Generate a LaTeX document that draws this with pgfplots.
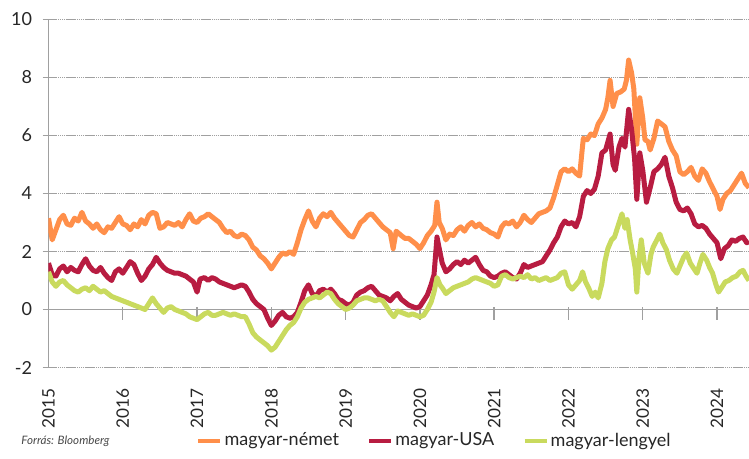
\documentclass[border=0pt]{standalone}
\usepackage{pgfplots}
\pgfplotsset{compat=1.18}
\usepackage{fontspec}
\setmainfont{Lato}
\definecolor{cOr}{HTML}{FF8F4A}
\definecolor{cRd}{HTML}{B81C41}
\definecolor{cGr}{HTML}{C9DA5E}
\definecolor{grd}{HTML}{A0A0A0}
\definecolor{txt}{HTML}{262626}
\begin{document}
\begin{tikzpicture}
\begin{axis}[
  at={(0pt,0pt)}, anchor=south west,
  scale only axis, width=350.25pt, height=174pt,
  xmin=2015, xmax=2024.43, ymin=-2, ymax=10,
  axis x line*=bottom, axis y line*=left,
  x axis line style={draw=none},
  y axis line style={grd, line width=0.8pt},
  xtick={2015,2016,2017,2018,2019,2020,2021,2022,2023,2024},
  xticklabels={2015,2016,2017,2018,2019,2020,2021,2022,2023,2024},
  ytick={-2,0,2,4,6,8,10},
  yticklabels={-2,0,2,4,6,8,10},
  xtick style={draw=none},
  ytick style={grd, line width=0.6pt},
  tick align=outside, major tick length=3pt,
  ymajorgrids, grid style={grd, line width=0.45pt, dash pattern=on 0.7pt off 0.25pt},
  tick label style={font=\fontsize{9}{10}\selectfont, text=txt},
  xticklabel style={rotate=90, anchor=east, inner sep=0pt, xshift=-7.5pt, font=\fontsize{8.6}{10}\selectfont},
  yticklabel style={inner sep=0pt, xshift=-5pt},
  legend columns=3,
  legend style={at={(0.551,-0.211)}, anchor=center, draw=none, fill=none,
    font=\fontsize{9}{10}\selectfont, text=txt,
    /tikz/every even column/.append style={column sep=13pt},
    nodes={inner sep=1pt}},
  legend cell align=left,
  legend image code/.code={\draw[#1, line width=2.2pt] (0pt,0pt) -- (11pt,0pt);},
  every axis plot/.append style={line width=2.5pt, line join=round},
]
\draw[grd, line width=0.7pt] (axis cs:2015,0) -- (axis cs:2024.43,0);
\pgfplotsinvokeforeach{2016,2017,2018,2019,2020,2021,2022,2023,2024}{
  \draw[grd, line width=0.7pt] ([yshift=1pt]axis cs:#1,0) -- ([yshift=-5.5pt]axis cs:#1,0);
}
\addplot[cOr] coordinates {
(2015.00,3.15)(2015.05,2.40)(2015.10,2.75)(2015.15,3.10)(2015.20,3.25)(2015.25,2.95)
(2015.30,2.90)(2015.35,3.15)(2015.40,3.05)(2015.45,3.35)(2015.50,3.05)(2015.55,2.95)
(2015.60,2.80)(2015.65,2.95)(2015.70,2.75)(2015.75,2.65)(2015.80,2.85)(2015.85,2.80)
(2015.90,3.00)(2015.95,3.20)(2016.00,2.95)(2016.05,2.90)(2016.10,2.75)(2016.15,2.95)
(2016.20,2.85)(2016.25,3.10)(2016.30,2.95)(2016.35,3.25)(2016.40,3.35)(2016.45,3.30)
(2016.50,2.80)(2016.55,2.85)(2016.60,3.00)(2016.65,2.95)(2016.70,2.90)(2016.75,3.00)
(2016.80,2.85)(2016.85,3.10)(2016.90,3.30)(2016.95,3.05)(2017.00,3.00)(2017.05,3.15)
(2017.10,3.20)(2017.15,3.30)(2017.20,3.20)(2017.25,3.10)(2017.30,3.00)(2017.35,2.80)
(2017.40,2.65)(2017.45,2.70)(2017.50,2.55)(2017.55,2.50)(2017.60,2.60)(2017.65,2.55)
(2017.70,2.40)(2017.75,2.15)(2017.80,2.05)(2017.85,1.85)(2017.90,1.75)(2017.95,1.60)
(2018.00,1.40)(2018.05,1.60)(2018.10,1.80)(2018.15,1.95)(2018.20,1.90)(2018.25,2.00)
(2018.30,1.90)(2018.35,2.30)(2018.40,2.75)(2018.45,3.10)(2018.50,3.40)(2018.55,3.05)
(2018.60,2.85)(2018.65,3.15)(2018.70,3.30)(2018.75,3.20)(2018.80,3.35)(2018.85,3.15)
(2018.90,3.00)(2018.95,2.85)(2019.00,2.70)(2019.05,2.55)(2019.10,2.50)(2019.15,2.75)
(2019.20,3.00)(2019.25,3.10)(2019.30,3.25)(2019.35,3.30)(2019.40,3.15)(2019.45,3.00)
(2019.50,2.85)(2019.55,2.75)(2019.60,2.65)(2019.64,2.10)(2019.68,2.70)(2019.75,2.55)
(2019.80,2.45)(2019.85,2.45)(2019.90,2.35)(2019.95,2.25)(2020.00,2.10)(2020.05,2.30)
(2020.10,2.55)(2020.15,2.70)(2020.20,2.90)(2020.23,3.70)(2020.26,3.00)(2020.30,2.80)
(2020.35,2.40)(2020.40,2.60)(2020.45,2.55)(2020.50,2.75)(2020.55,2.85)(2020.60,2.70)
(2020.65,2.90)(2020.70,3.00)(2020.75,2.85)(2020.80,2.95)(2020.85,2.80)(2020.90,2.75)
(2020.95,2.65)(2021.00,2.60)(2021.05,2.50)(2021.10,2.85)(2021.15,3.00)(2021.20,2.95)
(2021.25,3.05)(2021.30,2.85)(2021.35,3.00)(2021.40,3.25)(2021.45,3.10)(2021.50,3.00)
(2021.55,3.15)(2021.60,3.30)(2021.65,3.35)(2021.70,3.40)(2021.75,3.50)(2021.80,3.85)
(2021.85,4.30)(2021.90,4.75)(2021.95,4.85)(2022.00,4.75)(2022.05,4.85)(2022.10,4.70)
(2022.15,4.60)(2022.18,5.40)(2022.20,5.90)(2022.25,5.85)(2022.30,6.05)(2022.35,6.00)
(2022.40,6.40)(2022.45,6.60)(2022.50,6.90)(2022.53,7.30)(2022.56,7.90)(2022.60,7.00)
(2022.65,7.45)(2022.70,7.50)(2022.75,7.60)(2022.78,7.90)(2022.81,8.60)(2022.85,8.15)
(2022.88,7.60)(2022.92,5.70)(2022.96,7.30)(2023.00,6.60)(2023.03,5.85)(2023.07,5.80)
(2023.10,5.50)(2023.15,5.90)(2023.20,6.50)(2023.25,6.40)(2023.30,6.30)(2023.35,5.80)
(2023.40,5.50)(2023.45,5.30)(2023.50,4.75)(2023.55,4.65)(2023.60,4.75)(2023.65,4.90)
(2023.70,4.60)(2023.75,4.45)(2023.80,4.85)(2023.85,4.70)(2023.90,4.40)(2023.95,4.15)
(2024.00,3.90)(2024.04,3.45)(2024.08,3.80)(2024.13,4.00)(2024.18,4.10)(2024.23,4.30)
(2024.28,4.50)(2024.33,4.70)(2024.38,4.35)(2024.43,4.20)
};
\addlegendentry{magyar-német}
\addplot[cRd] coordinates {
(2015.00,1.60)(2015.05,1.20)(2015.10,1.15)(2015.15,1.40)(2015.20,1.50)(2015.25,1.30)
(2015.30,1.45)(2015.35,1.35)(2015.40,1.30)(2015.45,1.55)(2015.50,1.75)(2015.55,1.50)
(2015.60,1.35)(2015.65,1.30)(2015.70,1.45)(2015.75,1.25)(2015.80,1.10)(2015.85,1.00)
(2015.90,1.30)(2015.95,1.40)(2016.00,1.25)(2016.05,1.45)(2016.10,1.65)(2016.15,1.55)
(2016.20,1.25)(2016.25,1.00)(2016.30,1.15)(2016.35,1.40)(2016.40,1.55)(2016.45,1.80)
(2016.50,1.60)(2016.55,1.45)(2016.60,1.35)(2016.65,1.30)(2016.70,1.25)(2016.75,1.25)
(2016.80,1.20)(2016.85,1.15)(2016.90,1.05)(2016.95,0.95)(2017.00,0.60)(2017.04,1.05)
(2017.10,1.10)(2017.15,1.00)(2017.20,1.10)(2017.25,1.05)(2017.30,0.95)(2017.35,0.90)
(2017.40,0.85)(2017.45,0.80)(2017.50,0.75)(2017.55,0.80)(2017.60,0.85)(2017.65,0.80)
(2017.70,0.60)(2017.75,0.35)(2017.80,0.20)(2017.85,0.10)(2017.90,0.00)(2017.95,-0.30)
(2018.00,-0.55)(2018.05,-0.40)(2018.10,-0.20)(2018.15,-0.10)(2018.20,-0.25)(2018.25,-0.30)
(2018.30,-0.25)(2018.35,-0.10)(2018.40,0.25)(2018.45,0.65)(2018.50,0.85)(2018.55,0.55)
(2018.60,0.45)(2018.65,0.65)(2018.70,0.70)(2018.75,0.60)(2018.80,0.70)(2018.85,0.55)
(2018.90,0.35)(2018.95,0.30)(2019.00,0.20)(2019.05,0.15)(2019.10,0.25)(2019.15,0.50)
(2019.20,0.60)(2019.25,0.65)(2019.30,0.75)(2019.35,0.80)(2019.40,0.65)(2019.45,0.50)
(2019.50,0.45)(2019.55,0.40)(2019.60,0.30)(2019.65,0.45)(2019.70,0.55)(2019.75,0.35)
(2019.80,0.25)(2019.85,0.15)(2019.90,0.10)(2019.95,0.05)(2020.00,0.10)(2020.05,0.30)
(2020.10,0.50)(2020.15,0.85)(2020.19,1.20)(2020.23,2.50)(2020.26,2.10)(2020.30,1.60)
(2020.35,1.30)(2020.40,1.40)(2020.45,1.55)(2020.50,1.65)(2020.55,1.55)(2020.60,1.70)
(2020.65,1.60)(2020.70,1.70)(2020.75,1.80)(2020.80,1.55)(2020.85,1.35)(2020.90,1.30)
(2020.95,1.15)(2021.00,1.10)(2021.05,1.15)(2021.10,1.25)(2021.15,1.30)(2021.20,1.20)
(2021.25,1.10)(2021.30,1.05)(2021.35,1.25)(2021.40,1.55)(2021.45,1.45)(2021.50,1.50)
(2021.55,1.55)(2021.60,1.60)(2021.65,1.65)(2021.70,1.85)(2021.75,2.05)(2021.80,2.30)
(2021.85,2.50)(2021.90,2.85)(2021.95,3.05)(2022.00,2.95)(2022.05,3.00)(2022.10,2.85)
(2022.15,3.20)(2022.20,3.90)(2022.25,4.10)(2022.30,4.00)(2022.35,4.15)(2022.40,4.60)
(2022.45,5.40)(2022.50,5.50)(2022.56,6.05)(2022.60,5.00)(2022.63,4.80)(2022.68,5.60)
(2022.72,5.90)(2022.76,5.60)(2022.81,6.90)(2022.85,6.20)(2022.89,5.20)(2022.92,3.80)
(2022.96,5.40)(2023.00,4.80)(2023.05,3.70)(2023.10,4.20)(2023.15,4.75)(2023.20,4.85)
(2023.25,5.00)(2023.30,5.25)(2023.35,4.60)(2023.40,4.20)(2023.45,3.70)(2023.50,3.45)
(2023.55,3.40)(2023.60,3.50)(2023.65,3.30)(2023.70,2.95)(2023.75,2.85)(2023.80,2.90)
(2023.85,2.80)(2023.90,2.60)(2023.95,2.45)(2024.00,2.30)(2024.05,1.75)(2024.10,2.10)
(2024.15,2.20)(2024.20,2.40)(2024.25,2.35)(2024.30,2.45)(2024.35,2.50)(2024.40,2.30)
(2024.43,2.35)
};
\addlegendentry{magyar-USA}
\addplot[cGr] coordinates {
(2015.00,1.30)(2015.05,0.95)(2015.10,0.80)(2015.15,0.95)(2015.20,1.00)(2015.25,0.85)
(2015.30,0.75)(2015.35,0.65)(2015.40,0.60)(2015.45,0.70)(2015.50,0.75)(2015.55,0.65)
(2015.60,0.80)(2015.65,0.70)(2015.70,0.60)(2015.75,0.65)(2015.80,0.55)(2015.85,0.45)
(2015.90,0.40)(2015.95,0.35)(2016.00,0.30)(2016.05,0.25)(2016.10,0.20)(2016.15,0.15)
(2016.20,0.10)(2016.25,0.05)(2016.30,0.00)(2016.35,0.20)(2016.40,0.40)(2016.45,0.20)
(2016.50,0.05)(2016.55,-0.10)(2016.60,0.05)(2016.65,0.10)(2016.70,0.00)(2016.75,-0.05)
(2016.80,-0.10)(2016.85,-0.15)(2016.90,-0.25)(2016.95,-0.30)(2017.00,-0.35)(2017.05,-0.25)
(2017.10,-0.15)(2017.15,-0.10)(2017.20,-0.20)(2017.25,-0.20)(2017.30,-0.15)(2017.35,-0.10)
(2017.40,-0.15)(2017.45,-0.20)(2017.50,-0.15)(2017.55,-0.20)(2017.60,-0.25)(2017.65,-0.25)
(2017.70,-0.50)(2017.75,-0.80)(2017.80,-0.95)(2017.85,-1.05)(2017.90,-1.15)(2017.95,-1.25)
(2018.00,-1.40)(2018.05,-1.30)(2018.10,-1.10)(2018.15,-0.90)(2018.20,-0.70)(2018.25,-0.55)
(2018.30,-0.45)(2018.35,-0.25)(2018.40,0.05)(2018.45,0.25)(2018.50,0.35)(2018.55,0.40)
(2018.60,0.45)(2018.65,0.40)(2018.70,0.50)(2018.75,0.60)(2018.80,0.55)(2018.85,0.35)
(2018.90,0.20)(2018.95,0.10)(2019.00,0.00)(2019.05,0.05)(2019.10,0.15)(2019.15,0.30)
(2019.20,0.35)(2019.25,0.40)(2019.30,0.40)(2019.35,0.35)(2019.40,0.30)(2019.45,0.35)
(2019.50,0.30)(2019.55,0.10)(2019.60,-0.10)(2019.65,-0.25)(2019.70,-0.05)(2019.75,-0.10)
(2019.80,-0.15)(2019.85,-0.20)(2019.90,-0.15)(2019.95,-0.20)(2020.00,-0.25)(2020.05,-0.20)
(2020.10,0.00)(2020.15,0.25)(2020.19,0.60)(2020.23,1.10)(2020.27,0.85)(2020.30,0.75)
(2020.35,0.55)(2020.40,0.65)(2020.45,0.75)(2020.50,0.80)(2020.55,0.85)(2020.60,0.90)
(2020.65,0.95)(2020.70,1.05)(2020.75,1.10)(2020.80,1.05)(2020.85,1.00)(2020.90,0.95)
(2020.95,0.90)(2021.00,0.80)(2021.05,0.85)(2021.10,1.15)(2021.15,1.20)(2021.20,1.10)
(2021.25,1.05)(2021.30,1.10)(2021.35,1.15)(2021.40,1.10)(2021.45,1.20)(2021.50,1.05)
(2021.55,1.10)(2021.60,1.00)(2021.65,1.05)(2021.70,1.10)(2021.75,1.00)(2021.80,1.05)
(2021.85,1.10)(2021.90,1.25)(2021.95,1.30)(2022.00,0.85)(2022.05,0.70)(2022.10,0.85)
(2022.15,1.00)(2022.19,1.30)(2022.23,0.95)(2022.27,0.75)(2022.32,0.45)(2022.36,0.60)
(2022.40,0.40)(2022.45,0.90)(2022.49,1.65)(2022.53,2.10)(2022.58,2.40)(2022.62,2.50)
(2022.67,2.90)(2022.72,3.30)(2022.76,2.80)(2022.79,3.10)(2022.83,2.40)(2022.86,2.00)
(2022.90,1.40)(2022.92,0.60)(2022.95,1.80)(2022.98,2.40)(2023.02,1.60)(2023.07,1.25)
(2023.11,1.90)(2023.14,2.15)(2023.19,2.40)(2023.23,2.60)(2023.27,2.30)(2023.32,2.05)
(2023.36,1.70)(2023.41,1.40)(2023.46,1.25)(2023.50,1.50)(2023.55,1.80)(2023.59,1.95)
(2023.64,1.60)(2023.69,1.40)(2023.73,1.25)(2023.77,1.60)(2023.81,1.90)(2023.86,1.70)
(2023.90,1.45)(2023.94,1.25)(2023.98,0.90)(2024.02,0.60)(2024.06,0.75)(2024.11,0.95)
(2024.16,1.00)(2024.21,1.10)(2024.26,1.15)(2024.31,1.30)(2024.35,1.35)(2024.39,1.15)
(2024.43,1.00)
};
\addlegendentry{magyar-lengyel}
\end{axis}
\node[anchor=west, inner sep=0pt, font=\itshape\fontsize{5.8}{7}\selectfont, text=txt!85] at (-13.75pt,-36.75pt) {Forrás: Bloomberg};
\pgfresetboundingbox
\path[use as bounding box] (-24.25pt,-45.75pt) rectangle (350.25pt,183.75pt);
\end{tikzpicture}
\end{document}
